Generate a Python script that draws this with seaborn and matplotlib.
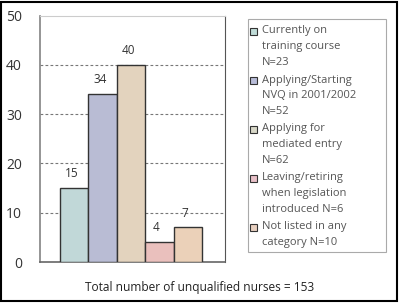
import matplotlib
matplotlib.use("Agg")
import matplotlib.pyplot as plt
from matplotlib.patches import Rectangle
import seaborn as sns
import pandas as pd

# ── Data ──────────────────────────────────────────────────
categories = [
    "Currently on\ntraining course\nN=23",
    "Applying/Starting\nNVQ in 2001/2002\nN=52",
    "Applying for\nmediated entry\nN=62",
    "Leaving/retiring\nwhen legislation\nintroduced N=6",
    "Not listed in any\ncategory N=10",
]
percent = [15, 34, 40, 4, 7]
bar_colors = ["#bddcdc", "#b4b8d9", "#e9d4b8", "#f1b9b6", "#f3d0b1"]
legend_colors = ["#c0dcd8", "#b8bcd8", "#d8d8c8", "#e8c0c8", "#e8d0c0"]
yticks = [0, 10, 20, 30, 40, 50]
xlabel = "Total number of unqualified nurses = 153"

df = pd.DataFrame({"category": categories, "value": percent})

sns.set_theme(style="white")
plt.rcParams["font.family"] = ["Open Sans", "DejaVu Sans"]

W, H = 400, 303


def fx(px):
    return px / W


def fy(py):
    return 1 - py / H


fig = plt.figure(figsize=(W / 100, H / 100), dpi=100)
ax = fig.add_axes([fx(40), fy(262), fx(225) - fx(40), fy(15.5) - fy(262)])

sns.barplot(data=df, x="category", y="value", hue="category",
            palette=bar_colors, width=1.0, edgecolor="#333333",
            linewidth=1.0, legend=False, ax=ax, zorder=3)

for i, v in enumerate(percent):
    ax.text(i - 0.1, v + 1.6, str(v), ha="center", va="bottom",
            fontsize=8.5, color="#333333")

ax.set_xlim(-1.204, 5.31)
ax.set_ylim(0, 50)
ax.set_yticks(yticks)
ax.set_yticklabels([str(t) for t in yticks], fontsize=10, color="#333333")
ax.tick_params(axis="y", length=0, pad=13)
ax.set_xticks([])
ax.set_xlabel("")
ax.set_ylabel("")

for t in yticks[1:-1]:
    ax.axhline(t, color="#777777", lw=0.8, ls=(0, (2.5, 2)), zorder=1)

ax.spines["left"].set_color("#888888")
ax.spines["bottom"].set_color("#666666")
ax.spines["bottom"].set_linewidth(1.2)
ax.spines["top"].set_color("#cccccc")
ax.spines["top"].set_linewidth(0.8)
ax.spines["right"].set_color("#555555")
ax.spines["right"].set_linewidth(0.8)

# ── Legend (built by hand so squares sit on the first line) ──
fig.patches.append(Rectangle((fx(248), fy(252)), fx(386) - fx(248),
                             fy(19) - fy(252), transform=fig.transFigure,
                             fill=False, edgecolor="#aaaaaa", linewidth=0.8))
entry_tops = [25.5, 74.5, 123, 172, 221.5]
for lab, col, top in zip(categories, legend_colors, entry_tops):
    fig.patches.append(Rectangle((fx(250), fy(top + 9.5)), fx(7), 7 / H,
                                 transform=fig.transFigure, facecolor=col,
                                 edgecolor="#333333", linewidth=0.8))
    fig.text(fx(262), fy(top), lab, ha="left", va="top", fontsize=8,
             color="#555555", linespacing=1.6)

fig.text(0.5, fy(287), xlabel, ha="center", va="center",
         fontsize=8.6, color="#222222")

fig.patches.append(Rectangle((fx(1), fy(301)), fx(396), fy(2) - fy(301),
                             transform=fig.transFigure, fill=False,
                             edgecolor="black", linewidth=1.5))

fig.savefig("out.png", dpi=100)
